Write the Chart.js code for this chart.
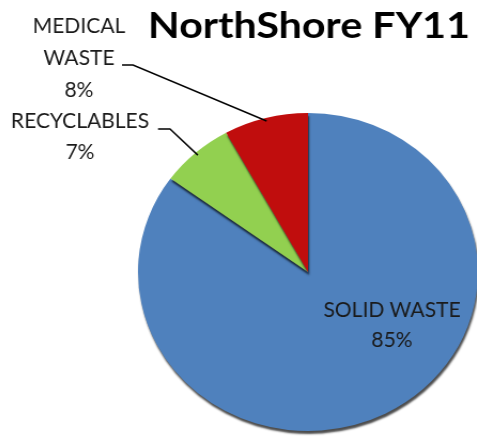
<!DOCTYPE html>
<html>
<head>
<meta charset="utf-8">
<script src="https://cdn.jsdelivr.net/npm/chart.js@4.4.0/dist/chart.umd.min.js"></script>
<style>
  html, body { margin: 0; padding: 0; background: #fff; overflow: hidden; }
  #wrap { position: absolute; left: 0; top: 0; width: 477px; height: 442px;
          transform: scaleX(1.069); transform-origin: 308px 0; }
</style>
</head>
<body>
<div id="wrap"><canvas id="myChart" width="477" height="442"></canvas></div>
<script>
// Data for the pie
const categories = ['SOLID WASTE', 'RECYCLABLES', 'MEDICAL WASTE'];
const shares = [85, 7, 8];
const sliceColors = ['#4f81bd', '#92d050', '#c00d0d'];
const titleText = 'NorthShore FY11';

const stretch = 1.069; // same as the css scaleX on #wrap
const cx = 308;

// undo the horizontal stretch so text is not squashed
function unstretch(ctx) {
    ctx.translate(cx, 0);
    ctx.scale(1 / stretch, 1);
    ctx.translate(-cx, 0);
}
// canvas point -> screen point
function toScreen(x, y) {
    return { x: cx + (x - cx) * stretch, y: y };
}

const shadowPlugin = {
    id: 'shadow',
    beforeDatasetsDraw(chart) {
        const ctx = chart.ctx;
        ctx.save();
        ctx.shadowColor = 'rgba(0,0,0,0.7)';
        ctx.shadowBlur = 2;
        ctx.shadowOffsetX = 1;
        ctx.shadowOffsetY = 3;
    },
    afterDatasetsDraw(chart) {
        chart.ctx.restore();
    }
};

const labelPlugin = {
    id: 'labels',
    afterDraw(chart) {
        const ctx = chart.ctx;
        const arcs = chart.getDatasetMeta(0).data;
        ctx.save();
        unstretch(ctx);

        // title, fitted to the width it has in the original
        ctx.fillStyle = '#000';
        ctx.font = 'bold 36px Lato';
        ctx.textAlign = 'center';
        ctx.textBaseline = 'alphabetic';
        const tw = ctx.measureText(titleText).width;
        ctx.save();
        ctx.translate(309, 38);
        ctx.scale(322 / tw, 1);
        ctx.fillText(titleText, 0, 0);
        ctx.restore();

        // labels
        ctx.fillStyle = '#1a1a1a';
        ctx.font = '21px Lato';
        ctx.fillText('MEDICAL', 79, 33);
        ctx.fillText('WASTE', 79, 65);
        ctx.fillText(shares[2] + '%', 79, 97);
        ctx.fillText(categories[1], 80, 128);
        ctx.fillText(shares[1] + '%', 80, 159);
        ctx.fillText(categories[0], 392, 317);
        ctx.fillText(shares[0] + '%', 392, 347);

        // leader lines to the small slices
        function rimPoint(arc) {
            const a = (arc.startAngle + arc.endAngle) / 2;
            const r = arc.outerRadius * 0.98;
            return toScreen(arc.x + Math.cos(a) * r, arc.y + Math.sin(a) * r);
        }
        ctx.strokeStyle = '#000';
        ctx.lineWidth = 1.6;
        const pMed = rimPoint(arcs[2]);
        ctx.beginPath();
        ctx.moveTo(122, 65);
        ctx.lineTo(133, 65);
        ctx.lineTo(pMed.x, pMed.y);
        ctx.stroke();
        const pRec = rimPoint(arcs[1]);
        ctx.beginPath();
        ctx.moveTo(158, 129);
        ctx.lineTo(170, 129);
        ctx.lineTo(pRec.x, pRec.y);
        ctx.stroke();
        ctx.restore();
    }
};

const config = {
    type: 'pie',
    data: {
        labels: categories,
        datasets: [{
            data: shares,
            backgroundColor: sliceColors,
            borderWidth: 0
        }]
    },
    options: {
        responsive: false,
        animation: false,
        layout: {
            padding: { left: 149, right: 10, top: 113, bottom: 11 }
        },
        plugins: {
            legend: { display: false },
            tooltip: { enabled: false },
            title: { display: false }
        }
    },
    plugins: [shadowPlugin, labelPlugin]
};

var myChart = new Chart(document.getElementById('myChart'), config);
</script>
</body>
</html>
